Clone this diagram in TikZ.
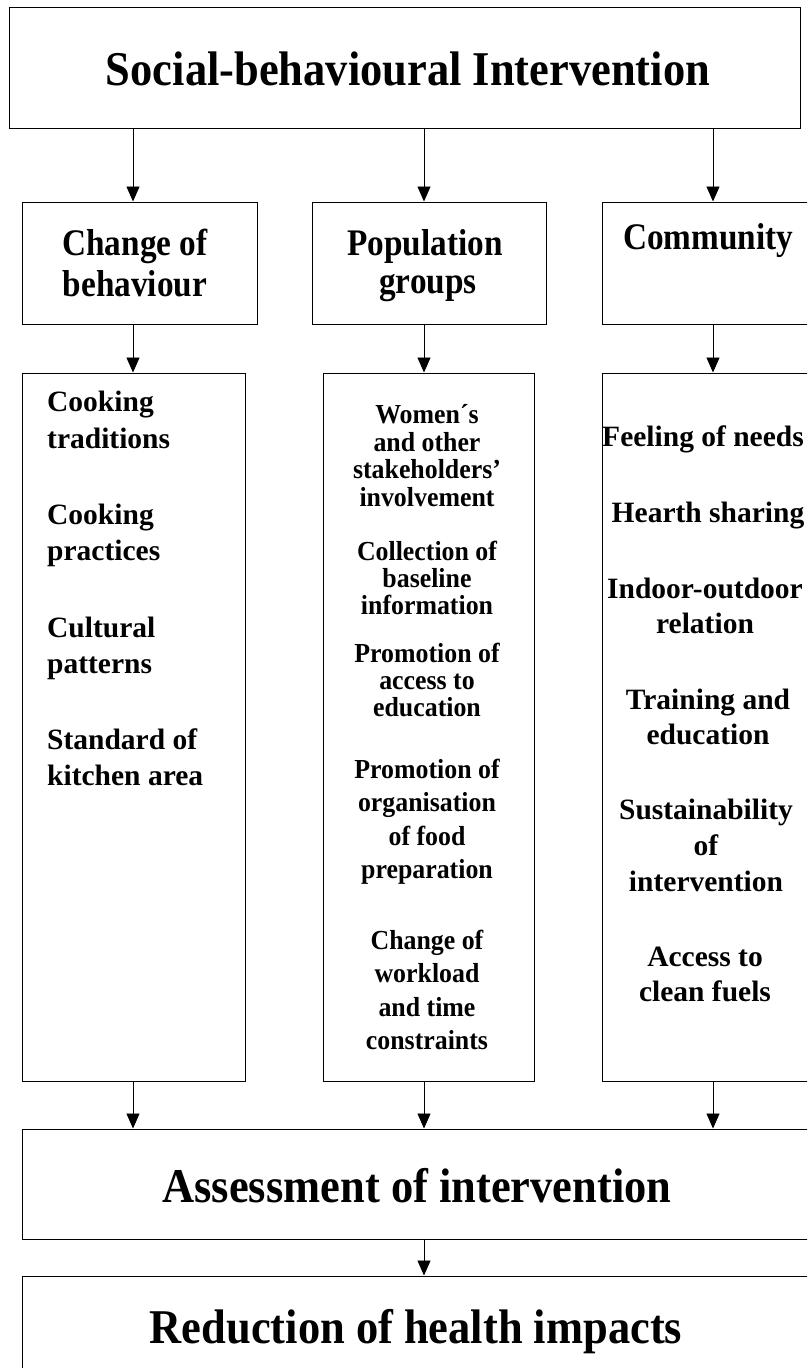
\documentclass[tikz,border=0pt]{standalone}
\usepackage{fontspec}
\setmainfont{Liberation Serif}
% narrower bold faces for the larger labels
\newfontfamily\titlefont[FakeStretch=0.917]{Liberation Serif Bold}
\newfontfamily\headfont[FakeStretch=0.887]{Liberation Serif Bold}
\newfontfamily\midfont[FakeStretch=0.94]{Liberation Serif Bold}
\usetikzlibrary{arrows.meta}

\tikzset{
  box/.style={draw=black, line width=1pt, inner sep=0pt, fill=white},
  arr/.style={line width=0.9pt, -{Triangle[length=15pt,width=13pt]}},
  bigtxt/.style={anchor=base, inner sep=0pt, font=\fontsize{48.5}{54}\titlefont},
  hdrtxt/.style={anchor=base, inner sep=0pt, font=\fontsize{37.5}{42}\headfont},
  lefttxt/.style={anchor=base west, inner sep=0pt, font=\fontsize{29.5}{34}\selectfont\bfseries},
  midtxt/.style={anchor=base, inner sep=0pt, font=\fontsize{27.5}{30}\midfont},
  righttxt/.style={anchor=base, inner sep=0pt, font=\fontsize{29.5}{34}\selectfont\bfseries},
}

\begin{document}
\begin{tikzpicture}[x=1pt, y=-1pt]
\useasboundingbox (0,0) rectangle (807,1368);
\clip (0,0) rectangle (807,1368);
\fill[white] (0,0) rectangle (807,1368);

% boxes
\node[box, minimum width=791pt, minimum height=121pt] (top) at (404.5,67.5) {};
\node[box, minimum width=235pt, minimum height=122pt] (h1) at (139.5,263) {};
\node[box, minimum width=234pt, minimum height=122pt] (h2) at (429,263) {};
\node[box, minimum width=234pt, minimum height=122pt] (h3) at (719,263) {};
\node[box, minimum width=223pt, minimum height=708pt] (l1) at (133.5,727) {};
\node[box, minimum width=211pt, minimum height=708pt] (l2) at (428.5,727) {};
\node[box, minimum width=212pt, minimum height=708pt] (l3) at (708,727) {};
\node[box, minimum width=804pt, minimum height=110pt] (assess) at (424,1184) {};
\node[box, minimum width=804pt, minimum height=124pt] (reduce) at (424,1338) {};

% arrow columns
\coordinate (ax1) at (133,0);
\coordinate (ax2) at (424,0);
\coordinate (ax3) at (713,0);

\draw[arr] (top.south -| ax1) -- (h1.north -| ax1);
\draw[arr] (top.south -| ax2) -- (h2.north -| ax2);
\draw[arr] (top.south -| ax3) -- (h3.north -| ax3);
\draw[arr] (h1.south -| ax1) -- (l1.north -| ax1);
\draw[arr] (h2.south -| ax2) -- (l2.north -| ax2);
\draw[arr] (h3.south -| ax3) -- (l3.north -| ax3);
\draw[arr] (l1.south -| ax1) -- (assess.north -| ax1);
\draw[arr] (l2.south -| ax2) -- (assess.north -| ax2);
\draw[arr] (l3.south -| ax3) -- (assess.north -| ax3);
\draw[arr] (assess.south -| ax2) -- (reduce.north -| ax2);

% titles
\node[bigtxt] (ttop) at (408,85) {Social-behavioural Intervention};
\node[bigtxt] (tassess) at (417,1202) {Assessment of intervention};
\node[bigtxt] (treduce) at (416,1343) {Reduction of health impacts};

% column headers
\node[hdrtxt] (h1a) at (135,255) {Change of};
\node[hdrtxt] (h1b) at (135,296) {behaviour};
\node[hdrtxt] (h2a) at (425,255) {Population};
\node[hdrtxt] (h2b) at (428,293) {groups};
\node[hdrtxt] (h3a) at (708,249) {Community};

% left column
\node[lefttxt] (c1a) at (47,411) {Cooking};
\node[lefttxt] (c1b) at (47,448) {traditions};
\node[lefttxt] (c2a) at (47,524) {Cooking};
\node[lefttxt] (c2b) at (47,560) {practices};
\node[lefttxt] (c3a) at (47,637) {Cultural};
\node[lefttxt] (c3b) at (47,673) {patterns};
\node[lefttxt] (c4a) at (47,749) {Standard of};
\node[lefttxt] (c4b) at (47,785) {kitchen area};

% middle column
\node[midtxt] (p1a) at (427,423) {Women´s};
\node[midtxt] (p1b) at (427,451) {and other};
\node[midtxt] (p1c) at (427,478) {stakeholders’};
\node[midtxt] (p1d) at (427,506) {involvement};
\node[midtxt] (p2a) at (427,560) {Collection of};
\node[midtxt] (p2b) at (427,587) {baseline};
\node[midtxt] (p2c) at (427,614) {information};
\node[midtxt] (p3a) at (427,662) {Promotion of};
\node[midtxt] (p3b) at (427,689) {access to};
\node[midtxt] (p3c) at (427,716) {education};
\node[midtxt] (p4a) at (427,778) {Promotion of};
\node[midtxt] (p4b) at (427,811) {organisation};
\node[midtxt] (p4c) at (427,845) {of food};
\node[midtxt] (p4d) at (427,878) {preparation};
\node[midtxt] (p5a) at (427,949) {Change of};
\node[midtxt] (p5b) at (427,982) {workload};
\node[midtxt] (p5c) at (427,1016) {and time};
\node[midtxt] (p5d) at (427,1049) {constraints};

% right column
\node[righttxt] (r1) at (703,446) {Feeling of needs};
\node[righttxt] (r2) at (708,522) {Hearth sharing};
\node[righttxt] (r3a) at (705,598) {Indoor-outdoor};
\node[righttxt] (r3b) at (705,633) {relation};
\node[righttxt] (r4a) at (708,709) {Training and};
\node[righttxt] (r4b) at (708,744) {education};
\node[righttxt] (r5a) at (706,819) {Sustainability};
\node[righttxt] (r5b) at (706,855) {of};
\node[righttxt] (r5c) at (706,891) {intervention};
\node[righttxt] (r6a) at (705,966) {Access to};
\node[righttxt] (r6b) at (705,1001) {clean fuels};
\end{tikzpicture}
\end{document}
